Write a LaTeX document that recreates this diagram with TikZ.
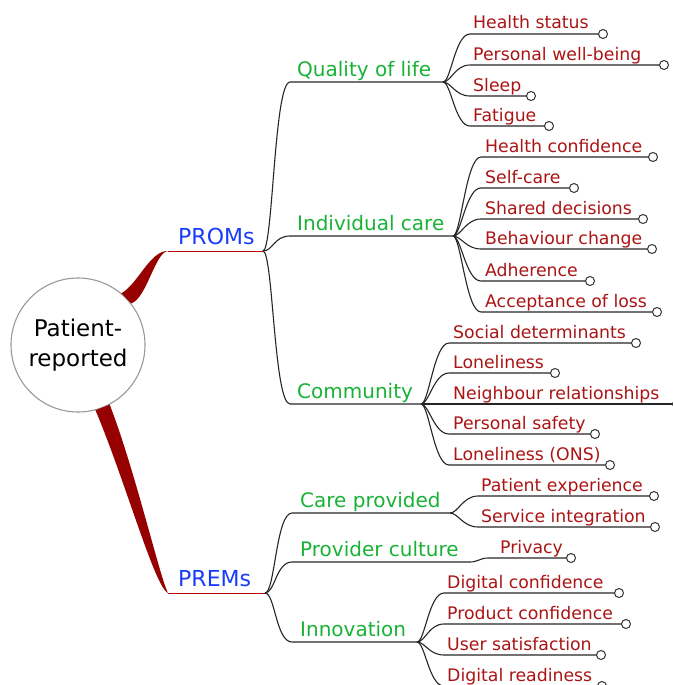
\documentclass[tikz,border=0pt]{standalone}
\usepackage{fontspec}
\setmainfont{DejaVu Sans}
\definecolor{leafred}{RGB}{170,20,20}
\definecolor{topicgreen}{RGB}{25,178,55}
\definecolor{mainblue}{RGB}{25,60,250}
\definecolor{branchred}{RGB}{150,0,0}

\begin{document}
\begin{tikzpicture}[x=1pt,y=-1pt,
  leaf/.style={text=leafred,font=\fontsize{17.3}{19}\selectfont,anchor=base west,inner sep=0pt,yshift=5pt},
  topic/.style={text=topicgreen,font=\fontsize{20}{22}\selectfont,anchor=base west,inner sep=0pt,yshift=6pt},
  main/.style={text=mainblue,font=\fontsize{22}{24}\selectfont,anchor=base west,inner sep=0pt,yshift=6.5pt},
  knob/.style={circle,draw=black!80,fill=white,line width=1pt,minimum size=9pt,inner sep=0pt},
  twig/.style={draw=black!85,line width=1.1pt},
  stem/.style={draw=red!70!black,line width=1pt},
  branch/.style={fill=branchred}]
  \useasboundingbox (0,0) rectangle (672,685);

  \node[circle,draw=black!40,fill=white,line width=1.1pt,minimum size=134pt,inner sep=0pt,
        align=center,font=\fontsize{23}{30}\selectfont] (pr) at (78,345) {Patient-\\reported};

  \coordinate (proms-l) at (168,251);
  \coordinate (proms) at (263,251);
  \coordinate (prems-l) at (168,593);
  \coordinate (prems) at (265,593);
  \fill[branch] (pr.50) .. controls (138,284) and (150,250.5) .. (proms-l)
    .. controls (155,252) and (147,298) .. (pr.38) -- cycle;
  \fill[branch] (pr.-75) .. controls (125,480) and (155,588) .. (prems-l)
    .. controls (160,578) and (135,470) .. (pr.-62) -- cycle;
  \draw[stem] (proms-l) -- (proms);
  \draw[stem] (prems-l) -- (prems);
  \node[main] (proms-t) at (178,251) {PROMs};
  \node[main] (prems-t) at (178,593) {PREMs};

  \foreach \n/\y/\e/\t in {qol/82/443/Quality of life, ic/236/453/Individual care, com/404/421/Community} {
    \coordinate (\n-a) at (290,\y);
    \coordinate (\n) at (\e,\y);
    \node[topic] (\n-t) at (297,\y) {\t};
    \draw[twig] (proms) .. controls +(10,0) and +(-16,0) .. (\n-a) -- (\n);
  }
  \foreach \n/\y/\e/\t in {cp/513/450/Care provided, pc/562/470/Provider culture, inn/642/417/Innovation} {
    \coordinate (\n-a) at (292,\y);
    \coordinate (\n) at (\e,\y);
    \node[topic] (\n-t) at (300,\y) {\t};
    \draw[twig] (prems) .. controls +(10,0) and +(-16,0) .. (\n-a) -- (\n);
  }

  \foreach \n/\y/\e/\t in {hs/34/603/Health status, pwb/65/664/Personal well-being, sl/96/531/Sleep, fa/126/549/Fatigue} {
    \coordinate (\n-a) at (470,\y);
    \coordinate (\n-e) at (\e,\y);
    \node[leaf] (\n-t) at (473,\y) {\t};
    \draw[twig] (qol) .. controls +(8,0) and +(-15,0) .. (\n-a) -- (\n-e);
    \node[knob] (\n) at (\n-e) {};
  }
  \foreach \n/\y/\e/\t in {hc/157/653/Health confidence, sc/188/574/Self-care, sd/219/643/Shared decisions,
                           bc/249/652/Behaviour change, ad/281/590/Adherence, al/312/657/Acceptance of loss} {
    \coordinate (\n-a) at (481,\y);
    \coordinate (\n-e) at (\e,\y);
    \node[leaf] (\n-t) at (485,\y) {\t};
    \draw[twig] (ic) .. controls +(8,0) and +(-15,0) .. (\n-a) -- (\n-e);
    \node[knob] (\n) at (\n-e) {};
  }
  \foreach \n/\y/\e/\t in {soc/343/636/Social determinants, lon/373/555/Loneliness, nr/404/677/Neighbour relationships,
                           ps/434/595/Personal safety, ons/465/610/Loneliness (ONS)} {
    \coordinate (\n-a) at (449,\y);
    \coordinate (\n-e) at (\e,\y);
    \node[leaf] (\n-t) at (453,\y) {\t};
    \draw[twig] (com) .. controls +(8,0) and +(-15,0) .. (\n-a) -- (\n-e);
    \node[knob] (\n) at (\n-e) {};
  }
  \foreach \n/\y/\e/\t in {pe/496/654/Patient experience, si/527/655/Service integration} {
    \coordinate (\n-a) at (478,\y);
    \coordinate (\n-e) at (\e,\y);
    \node[leaf] (\n-t) at (481,\y) {\t};
    \draw[twig] (cp) .. controls +(8,0) and +(-15,0) .. (\n-a) -- (\n-e);
    \node[knob] (\n) at (\n-e) {};
  }
  \coordinate (pv-a) at (488,558);
  \coordinate (pv-e) at (571,558);
  \node[leaf] (pv-t) at (500,558) {Privacy};
  \draw[twig] (pc) .. controls +(8,0) and +(-8,0) .. (pv-a) -- (pv-e);
  \node[knob] (pv) at (pv-e) {};
  \foreach \n/\y/\e/\t in {dc/593/619/Digital confidence, pdc/624/626/Product confidence,
                           us/655/601/User satisfaction, dr/686/602/Digital readiness} {
    \coordinate (\n-a) at (444,\y);
    \coordinate (\n-e) at (\e,\y);
    \node[leaf] (\n-t) at (447,\y) {\t};
    \draw[twig] (inn) .. controls +(8,0) and +(-15,0) .. (\n-a) -- (\n-e);
    \node[knob] (\n) at (\n-e) {};
  }
\end{tikzpicture}
\end{document}
